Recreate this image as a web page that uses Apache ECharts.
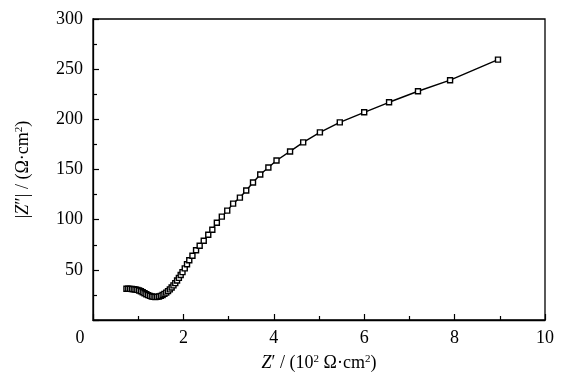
<!DOCTYPE html>
<html>
<head>
<meta charset="utf-8">
<script src="https://cdn.jsdelivr.net/npm/echarts@6/dist/echarts.min.js"></script>
<style>html,body{margin:0;padding:0;background:#fff}#c{width:568px;height:383px}</style>
</head>
<body>
<div id="c"></div>
<script>
var zReal = [0.74,0.78,0.82,0.86,0.90,0.94,0.98,1.02,1.06,1.10,1.14,1.18,1.22,1.26,1.30,1.34,1.38,1.42,1.46,1.50,1.54,1.58,1.62,1.66,1.70,1.74,1.78,1.82,1.86,1.90,1.94,1.98,2.03,2.08,2.13,2.20,2.28,2.36,2.45,2.55,2.64,2.74,2.85,2.97,3.10,3.25,3.39,3.54,3.70,3.88,4.06,4.36,4.65,5.02,5.46,6.00,6.55,7.19,7.90,8.96];
var zImag = [31.2,31.1,31.0,30.9,30.7,30.4,30.0,29.4,28.6,27.7,26.7,25.7,24.8,24.0,23.4,23.0,22.9,23.0,23.4,24.0,24.9,26.0,27.3,28.8,30.5,32.4,34.5,36.8,39.3,42.0,44.8,47.7,51.5,55.5,59.5,64.0,69.5,74.0,79.0,85.0,90.0,97.0,103.0,109.0,116.0,122.0,129.0,137.0,145.0,152.0,159.0,168.0,177.0,187.0,197.0,207.0,217.0,228.0,239.0,259.5];
var xTicks = [0,2,4,6,8,10];
var yTicks = [0,50,100,150,200,250,300];

var data = zReal.map(function(v,i){return [v, zImag[i]];});
var font = 'Liberation Serif';
var chart = echarts.init(document.getElementById('c'), null, {renderer:'canvas'});
chart.setOption({
  backgroundColor:'#fff',
  animation:false,
  grid:{left:93,right:23,top:19,bottom:63,show:true,borderColor:'#000',borderWidth:1.3},
  xAxis:{
    type:'value', min:xTicks[0], max:xTicks[xTicks.length-1], interval:2,
    axisLine:{show:true,lineStyle:{color:'#000',width:1.3}},
    axisTick:{show:true,inside:true,length:6,lineStyle:{color:'#000',width:1.2}},
    minorTick:{show:true,splitNumber:2,length:4,lineStyle:{color:'#000',width:1.2}},
    splitLine:{show:false},
    axisLabel:{color:'#000',fontFamily:font,fontSize:18,margin:9,
      formatter:function(v){return v===0?'{z|0}':String(v);},
      rich:{z:{fontFamily:font,fontSize:18,color:'#000',padding:[0,26,0,0]}}},
    name:'{i|Z}{n|′ / (10}{s|2}{n| Ω·cm}{s|2}{n|)}',
    nameLocation:'middle', nameGap:34,
    nameTextStyle:{color:'#000',fontFamily:font,fontSize:18,
      rich:{i:{fontFamily:font,fontSize:18,fontStyle:'italic',color:'#000'},
            n:{fontFamily:font,fontSize:18,color:'#000'},
            s:{fontFamily:font,fontSize:11,color:'#000',verticalAlign:'top',padding:[0,0,8,0]}}}
  },
  yAxis:{
    type:'value', min:yTicks[0], max:yTicks[yTicks.length-1], interval:50,
    axisLine:{show:true,lineStyle:{color:'#000',width:1.3}},
    axisTick:{show:true,inside:true,length:6,lineStyle:{color:'#000',width:1.2}},
    minorTick:{show:true,splitNumber:2,length:4,lineStyle:{color:'#000',width:1.2}},
    splitLine:{show:false},
    axisLabel:{color:'#000',fontFamily:font,fontSize:18,margin:10,
      formatter:function(v){return v===0?'':String(v);}},
    name:'{n||}{i|Z}{n|″| / (Ω·cm}{s|2}{n|)}',
    nameLocation:'middle', nameGap:60,
    nameTextStyle:{color:'#000',fontFamily:font,fontSize:18,
      rich:{i:{fontFamily:font,fontSize:18,fontStyle:'italic',color:'#000'},
            n:{fontFamily:font,fontSize:18,color:'#000'},
            s:{fontFamily:font,fontSize:11,color:'#000',verticalAlign:'top',padding:[0,0,8,0]}}}
  },
  series:[{
    type:'line', data:data, symbol:'rect', symbolSize:5, showAllSymbol:true,
    lineStyle:{color:'#000',width:1.4},
    itemStyle:{color:'#fff',borderColor:'#000',borderWidth:1.4}
  }]
});
</script>
</body>
</html>
